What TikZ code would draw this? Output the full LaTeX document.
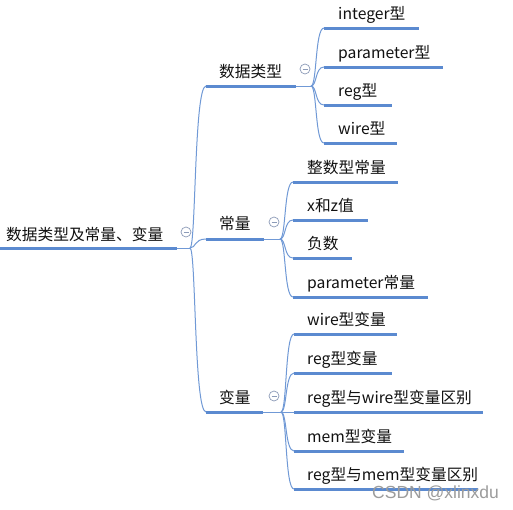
\documentclass[tikz,border=0pt]{standalone}
\usepackage{fontspec}
\newfontfamily\cjk{Noto Sans CJK SC}
\newfontfamily\wmfont{Liberation Sans}
\usetikzlibrary{calc}
\definecolor{ulblue}{HTML}{5B8AD0}
\definecolor{lnblue}{HTML}{7099D6}
\definecolor{foldc}{HTML}{8C9BB8}
\definecolor{txt}{HTML}{111111}
\definecolor{wm}{HTML}{9C9C9C}
\tikzset{
  ul/.style={line width=3pt, draw=ulblue},
  thinln/.style={line width=1pt, draw=lnblue},
  mmcurve/.style={to path={.. controls ($(\tikztostart)+(6,0)$) and ($(\tikztostart |- \tikztotarget)+(4,0)$) .. (\tikztotarget)}},
  lbl/.style={anchor=base west, inner sep=0pt, font=\cjk\fontsize{15.7}{15.7}\selectfont, text=txt},
  fold/.style={circle, draw=foldc, line width=0.7pt, minimum size=10pt, inner sep=0pt, fill=white,
    path picture={\draw[foldc, line width=0.7pt] ($(path picture bounding box.west)+(2.5,0)$) -- ($(path picture bounding box.east)+(-2.5,0)$);}},
}
\begin{document}
\begin{tikzpicture}[x=1pt,y=-1pt]
\useasboundingbox (0,0) rectangle (513,509);
\fill[white] (0,0) rectangle (513,509);

% ---------- root ----------
\coordinate (r0) at (0,248);
\coordinate (r1) at (177,248);
\coordinate (jr) at (190,248);
\node[lbl] (root) at (6,240) {数据类型及常量、变量};
\draw[thinln] (r1) -- (jr);
\draw[ul] (r0) -- (r1);

% ---------- level 1 ----------
\coordinate (d0) at (206,86);  \coordinate (d1) at (296,86);  \coordinate (jd) at (311,86);
\coordinate (c0) at (206,239); \coordinate (c1) at (264,239); \coordinate (jc) at (280,239);
\coordinate (b0) at (206,412); \coordinate (b1) at (263,412); \coordinate (jb) at (281,412);
\node[lbl] (dt) at (219,77) {数据类型};
\node[lbl] (cl) at (219,229) {常量};
\node[lbl] (bl) at (219,403) {变量};
\foreach \t in {d0,c0,b0} \draw[thinln] (jr) to[mmcurve] (\t);
\draw[thinln] (d1) -- (jd);
\draw[thinln] (c1) -- (jc);
\draw[thinln] (b1) -- (jb);
\draw[ul] (d0) -- (d1);
\draw[ul] (c0) -- (c1);
\draw[ul] (b0) -- (b1);

% ---------- 数据类型 children ----------
\foreach \n/\y/\e/\t in {da/28/419/integer型, db/67/443/parameter型, dc/105/392/reg型, dd/143/397/wire型}{
  \coordinate (\n0) at (324,\y);
  \coordinate (\n1) at (\e,\y);
  \draw[thinln] (jd) to[mmcurve] (\n0);
  \draw[ul] (\n0) -- (\n1);
  \node[lbl] (\n) at (338,\y-9) {\t};
}

% ---------- 常量 children ----------
\foreach \n/\y/\e/\t in {ca/182/398/整数型常量, cb/220/368/x和z值, cc/258/352/负数, cd/297/428/parameter常量}{
  \coordinate (\n0) at (293,\y);
  \coordinate (\n1) at (\e,\y);
  \draw[thinln] (jc) to[mmcurve] (\n0);
  \draw[ul] (\n0) -- (\n1);
  \node[lbl] (\n) at (307,\y-9) {\t};
}

% ---------- 变量 children ----------
\foreach \n/\y/\e/\t in {ba/334/397/wire型变量, bb/373/392/reg型变量, bc/412/483/reg型与wire型变量区别, bd/451/404/mem型变量, be/489/478/reg型与mem型变量区别}{
  \coordinate (\n0) at (294,\y);
  \coordinate (\n1) at (\e,\y);
  \draw[thinln] (jb) to[mmcurve] (\n0);
  \draw[ul] (\n0) -- (\n1);
  \node[lbl] (\n) at (307,\y-9) {\t};
}

% ---------- fold icons ----------
\node[fold] (fr) at (186,232) {};
\node[fold] (fd) at (305,69) {};
\node[fold] (fc) at (274,222) {};
\node[fold] (fb) at (274,396) {};

% ---------- watermark ----------
\node[anchor=west, inner sep=0pt, font=\wmfont\fontsize{17.5}{17.5}\selectfont, text=wm] (wmk) at (372,493) {CSDN @xlinxdu};
\end{tikzpicture}
\end{document}
